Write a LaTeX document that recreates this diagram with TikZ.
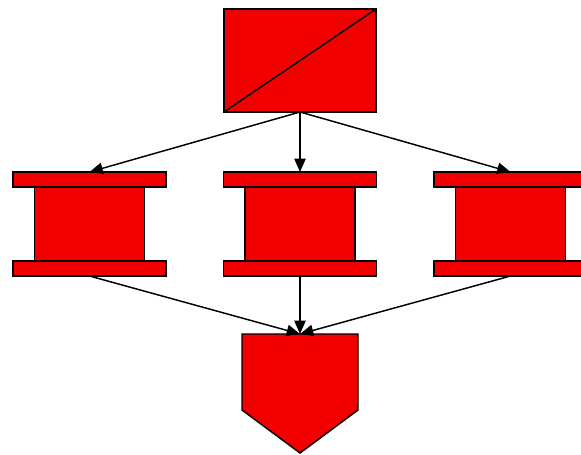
\documentclass[tikz,border=0pt]{standalone}
\usetikzlibrary{arrows.meta,calc}
\definecolor{cRed}{HTML}{F20000}

\begin{document}
\begin{tikzpicture}[x=0.75pt,y=-0.75pt,>={Triangle[length=10pt,width=8.5pt]},
  part/.style={draw=black,fill=cRed,line width=1.1pt,line join=miter},
  topbox/.style={part,minimum width=114pt,minimum height=77.25pt,inner sep=0pt,outer sep=0pt,
    path picture={\draw[line width=1.1pt] (path picture bounding box.south west)--(path picture bounding box.north east);}},
  spool/.style={minimum width=114.75pt,minimum height=78pt,inner sep=0pt,outer sep=0pt},
  tip/.style={minimum width=87pt,minimum height=89.25pt,inner sep=0pt,outer sep=0pt},
  link/.style={->,line width=1.1pt}]
\useasboundingbox (0,0) rectangle (581,454);
% ---------- top ----------
\node[topbox] (top) at (300,60.5) {};
% ---------- middle row ----------
\node[spool] (m1) at (89.5,224) {};
\node[spool] (m2) at (300,224) {};
\node[spool] (m3) at (510.5,224) {};
\foreach \n in {m1,m2,m3}{
  \draw[part] ([xshift=16.125pt,yshift=-11.25pt]\n.north west) rectangle ([xshift=-16.125pt,yshift=11.25pt]\n.south east);
  \draw[part] (\n.north west) rectangle ([yshift=-11.25pt]\n.north east);
  \draw[part] (\n.south west) rectangle ([yshift=11.25pt]\n.south east);}
% ---------- bottom ----------
\node[tip] (bot) at (300,393.5) {};
\draw[part] (bot.north west) -- (bot.north east) -- ([yshift=-57pt]bot.north east) -- (bot.south) -- ([yshift=-57pt]bot.north west) -- cycle;
% ---------- links ----------
\foreach \m in {m1,m2,m3}{\draw[link] (top.south) -- (\m.north);}
\foreach \m in {m1,m2,m3}{\draw[link] (\m.south) -- (bot.north);}
\end{tikzpicture}
\end{document}
